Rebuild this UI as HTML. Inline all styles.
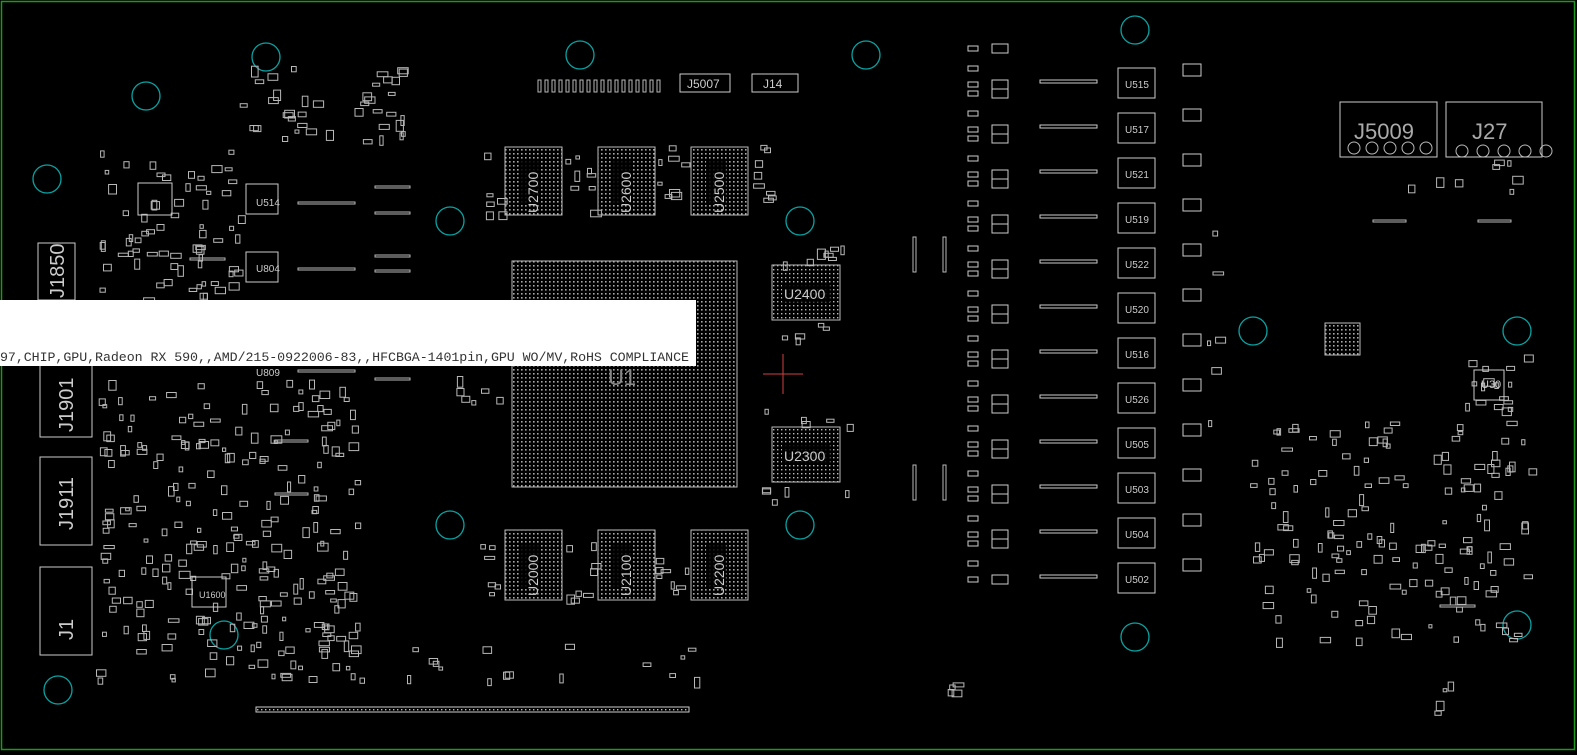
<!DOCTYPE html>
<html><head><meta charset="utf-8"><style>
html,body{margin:0;padding:0;background:#000;overflow:hidden}
svg{display:block}
</style></head><body>
<svg id="s" width="1577" height="755" viewBox="0 0 1577 755" xmlns="http://www.w3.org/2000/svg">
<defs>
<pattern id="dots" width="4" height="4" patternUnits="userSpaceOnUse"><rect x="1" y="1" width="1.6" height="1.6" fill="#a8a8a8"/></pattern>
<pattern id="dots2" width="4" height="4" patternUnits="userSpaceOnUse"><rect x="1" y="1" width="1.4" height="1.4" fill="#bbb"/></pattern>
</defs>
<rect width="1577" height="755" fill="#000"/>
<rect x="1.5" y="1.5" width="1573" height="748" fill="none" stroke="#1a9a1a" stroke-width="1.5"/>
<g fill="none" stroke="#0aa3a3" stroke-width="1.3">
<circle cx="266" cy="57" r="14"/><circle cx="580" cy="55" r="14"/><circle cx="866" cy="55" r="14"/>
<circle cx="146" cy="96" r="14"/><circle cx="1135" cy="30" r="14"/><circle cx="47" cy="179" r="14"/>
<circle cx="450" cy="221" r="14"/><circle cx="800" cy="221" r="14"/><circle cx="1253" cy="331" r="14"/>
<circle cx="1517" cy="331" r="14"/><circle cx="450" cy="525" r="14"/><circle cx="800" cy="525" r="14"/>
<circle cx="224" cy="635" r="14"/><circle cx="1135" cy="637" r="14"/><circle cx="1517" cy="625" r="14"/>
<circle cx="58" cy="690" r="14"/>
</g>
<g id="parts" fill="none" stroke="#b8b8b8" stroke-width="1"></g>
<g fill="url(#dots)" stroke="#bbb" stroke-width="1">
<rect x="512" y="261" width="225" height="226"/>
<rect x="505" y="147" width="57" height="68"/><rect x="598" y="147" width="57" height="68"/><rect x="691" y="147" width="57" height="68"/>
<rect x="505" y="530" width="57" height="70"/><rect x="598" y="530" width="57" height="70"/><rect x="691" y="530" width="57" height="70"/>
<rect x="772" y="265" width="68" height="55" fill="url(#dots2)"/><rect x="772" y="427" width="68" height="55" fill="url(#dots2)"/>
<rect x="1325" y="323" width="35" height="32"/>
</g>
<g fill="#000" opacity="0.85">
<rect x="520" y="160" width="20" height="45"/><rect x="613" y="160" width="20" height="45"/><rect x="706" y="160" width="20" height="45"/>
<rect x="520" y="543" width="20" height="45"/><rect x="613" y="543" width="20" height="45"/><rect x="706" y="543" width="20" height="45"/>
<rect x="782" y="284" width="48" height="18"/><rect x="782" y="445" width="48" height="18"/>
</g>
<g font-family="Liberation Sans, sans-serif" fill="#ccc" font-size="14">
<text transform="translate(538,213) rotate(-90)">U2700</text>
<text transform="translate(631,213) rotate(-90)">U2600</text>
<text transform="translate(724,213) rotate(-90)">U2500</text>
<text transform="translate(538,596) rotate(-90)">U2000</text>
<text transform="translate(631,596) rotate(-90)">U2100</text>
<text transform="translate(724,596) rotate(-90)">U2200</text>
<text x="784" y="299">U2400</text><text x="784" y="461">U2300</text>
<text x="608" y="385" font-size="22" fill="#888">U1</text>
<text x="1354" y="139" font-size="22" fill="#aaa">J5009</text>
<text x="1472" y="139" font-size="22" fill="#aaa">J27</text>
<text transform="translate(64,298) rotate(-90)" font-size="20">J1850</text>
<text transform="translate(73,432) rotate(-90)" font-size="20">J1901</text>
<text transform="translate(73,530) rotate(-90)" font-size="20">J1911</text>
<text transform="translate(73,640) rotate(-90)" font-size="20">J1</text>
<text x="687" y="88" font-size="12">J5007</text><text x="763" y="88" font-size="12">J14</text>
<text x="256" y="206" font-size="10">U514</text><text x="256" y="272" font-size="10">U804</text>
<text x="256" y="376" font-size="10">U809</text><text x="199" y="598" font-size="9">U1600</text>
<text x="1481" y="388" font-size="11">U30</text>
</g>
<g fill="none" stroke="#ccc" stroke-width="1">
<rect x="38" y="243" width="37" height="57"/><rect x="40" y="360" width="52" height="77"/>
<rect x="40" y="457" width="52" height="88"/><rect x="40" y="567" width="52" height="88"/>
<rect x="680" y="74" width="50" height="18"/><rect x="752" y="74" width="46" height="18"/>
<rect x="1340" y="102" width="97" height="55"/><rect x="1446" y="102" width="96" height="55"/>
<rect x="256" y="707" width="433" height="5" fill="url(#dots2)"/>
<rect x="246" y="184" width="32" height="30"/><rect x="246" y="252" width="32" height="30"/>
<rect x="138" y="183" width="34" height="32"/><rect x="192" y="577" width="34" height="30"/>
<rect x="1474" y="370" width="30" height="30"/>
</g>
<g id="right" fill="none" stroke="#ccc" stroke-width="1" font-family="Liberation Sans, sans-serif" font-size="10"></g>
<g stroke="#d04040" stroke-width="1"><line x1="763" y1="374" x2="803" y2="374"/><line x1="783" y1="354" x2="783" y2="394"/></g>
<rect x="0" y="300" width="696" height="66" fill="#fff"/>
<text x="0" y="361" font-family="Liberation Mono, monospace" font-size="13.3" fill="#333" textLength="689">97,CHIP,GPU,Radeon RX 590,,AMD/215-0922006-83,,HFCBGA-1401pin,GPU WO/MV,RoHS COMPLIANCE</text>
</svg>
<script>
(function(){
var NS="http://www.w3.org/2000/svg";
var R=document.getElementById("right"),P=document.getElementById("parts");
function el(g,t,a,txt){var e=document.createElementNS(NS,t);for(var k in a)e.setAttribute(k,a[k]);if(txt)e.textContent=txt;g.insertBefore(e,g.firstChild);return e;}
var names=["U515","U517","U521","U519","U522","U520","U516","U526","U505","U503","U504","U502"];
for(var i=0;i<12;i++){var y=68+i*45;
el(R,"rect",{x:1118,y:y,width:37,height:30});
el(R,"text",{x:1125,y:y+20,fill:"#ccc",stroke:"none"},names[i]);
el(R,"rect",{x:1040,y:y+12,width:57,height:3});
el(R,"rect",{x:992,y:y-24,width:16,height:9});el(R,"rect",{x:992,y:y+12,width:16,height:9});
el(R,"rect",{x:968,y:y-22,width:10,height:5});el(R,"rect",{x:968,y:y-2,width:10,height:5});el(R,"rect",{x:968,y:y+14,width:10,height:5});
el(R,"rect",{x:1183,y:y-4,width:18,height:12});
}
var L=[[298,202,57],[298,268,57],[298,370,57],[375,186,35],[375,212,35],[375,255,35],[375,270,35],[375,378,35],[190,258,35],[275,440,33],[275,493,33],[1373,220,33],[1478,220,33],[1440,605,35]];
L.forEach(function(l){el(P,"rect",{x:l[0],y:l[1],width:l[2],height:2});});
[[913,237],[943,237],[913,465],[943,465]].forEach(function(p){el(P,"rect",{x:p[0],y:p[1],width:3,height:35});});
var s=7;function rnd(){s=(s*16807)%2147483647;return s/2147483647;}
function scatter(x0,y0,x1,y1,n){for(var i=0;i<n;i++){var x=x0+rnd()*(x1-x0),y=y0+rnd()*(y1-y0);var w=3+rnd()*8,h=3+rnd()*5;if(rnd()<0.3){var t=w;w=h;h=t;}
if(y>298&&y<368&&x<700)continue;el(P,"rect",{x:x.toFixed(1),y:y.toFixed(1),width:w.toFixed(1),height:h.toFixed(1)});}}
scatter(100,150,240,300,70);scatter(95,380,360,680,250);scatter(240,60,330,140,20);scatter(355,60,410,140,20);
scatter(1250,420,1530,640,150);scatter(1460,355,1530,420,16);scatter(1395,160,1540,190,8);
scatter(400,640,700,680,16);scatter(440,370,500,410,6);scatter(760,245,845,265,8);scatter(760,320,850,340,5);scatter(760,407,850,425,5);scatter(760,487,850,500,5);
scatter(480,140,500,215,6);scatter(565,140,595,215,8);scatter(655,140,690,215,8);scatter(748,140,770,215,8);
scatter(480,540,500,600,6);scatter(565,540,595,600,8);scatter(655,540,690,600,8);
scatter(1205,210,1218,440,6);scatter(935,680,960,720,4);scatter(1425,680,1450,725,4);
for(var i=0;i<18;i++)el(P,"rect",{x:538+i*7,y:80,width:3,height:12});
for(var i=0;i<5;i++)el(P,"rect",{x:1456+i*21,y:145,width:12,height:12,rx:6});
for(var i=0;i<5;i++)el(P,"rect",{x:1348+i*18,y:142,width:12,height:12,rx:6});
})();
</script>
</body></html>
